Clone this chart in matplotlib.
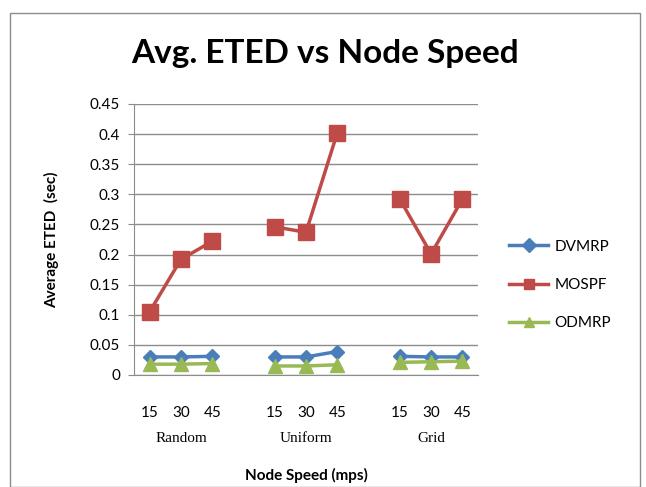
import matplotlib
matplotlib.use("Agg")
import matplotlib.pyplot as plt
from matplotlib.patches import Rectangle
import numpy as np

groups = ["Random", "Uniform", "Grid"]
speeds = ["15", "30", "45"]
dvmrp = [[0.030, 0.030, 0.031], [0.030, 0.030, 0.039], [0.031, 0.030, 0.030]]
mospf = [[0.105, 0.192, 0.222], [0.246, 0.237, 0.402], [0.292, 0.201, 0.292]]
odmrp = [[0.018, 0.018, 0.019], [0.015, 0.015, 0.017], [0.021, 0.022, 0.023]]
series_names = ["DVMRP", "MOSPF", "ODMRP"]
colors = ["#4A7EBB", "#BE4B48", "#98B954"]
markers = ["D", "s", "^"]
msizes = [7, 11, 10]

fig = plt.figure(figsize=(6.46, 4.87), dpi=100)
W, H = 646, 487
ax = fig.add_axes([134 / W, 1 - 375 / H, (478 - 134) / W, (375 - 104) / H])

sans = ["Lato", "DejaVu Sans"]
serif = ["Liberation Serif", "DejaVu Serif"]

# border of chart area
fig.patches.append(Rectangle((10 / W, 0), (640 - 10) / W, 1 - 13 / H, transform=fig.transFigure,
                             fill=False, edgecolor="#8c8c8c", linewidth=1.0))

handles = []
for data, name, c, m, ms in zip([dvmrp, mospf, odmrp], series_names, colors, markers, msizes):
    for gi, vals in enumerate(data):
        xs = np.arange(len(vals)) + gi * (len(speeds) + 1)
        h, = ax.plot(xs, vals, color=c, marker=m, markersize=ms, linewidth=2.5,
                     markeredgecolor=c, label=name if gi == 0 else None)
        if gi == 0:
            handles.append(h)

ax.set_xlim(-0.5, len(groups) * (len(speeds) + 1) - 1 - 0.5)
ax.set_ylim(0, 0.45)
ax.set_yticks(np.arange(0, 0.451, 0.05))
ax.set_yticklabels(["0", "0.05", "0.1", "0.15", "0.2", "0.25", "0.3", "0.35", "0.4", "0.45"],
                   fontfamily=sans, fontsize=11)
ax.yaxis.grid(True, color="#8c8c8c", linewidth=1.0)
ax.set_axisbelow(True)
for s in ["top", "right"]:
    ax.spines[s].set_visible(False)
ax.spines["left"].set_color("#8c8c8c")
ax.spines["bottom"].set_color("#8c8c8c")
ax.tick_params(axis="y", length=4, color="#8c8c8c", pad=6)

xt = []
xl = []
for gi in range(len(groups)):
    for si, s in enumerate(speeds):
        xt.append(gi * (len(speeds) + 1) + si)
        xl.append(s)
ax.set_xticks(xt)
ax.set_xticklabels(xl, fontfamily=sans, fontsize=11)
ax.tick_params(axis="x", length=0, pad=22)

for gi, g in enumerate(groups):
    xc = gi * (len(speeds) + 1) + 1
    ax.annotate(g, xy=(xc, 0), xycoords=("data", "axes fraction"), xytext=(0, -46),
                textcoords="offset points", ha="center", va="center",
                fontfamily=serif, fontsize=11)

fig.text(306 / W, 1 - 475 / H, "Node Speed (mps)", ha="center", va="center",
         fontfamily=sans, fontsize=11, fontweight="bold")
fig.text(52 / W, 1 - 240 / H, "Average ETED  (sec)", ha="center", va="center", rotation=90,
         fontfamily=sans, fontsize=11, fontweight="bold")
fig.text(325 / W, 1 - 53 / H, "Avg. ETED vs Node Speed", ha="center", va="center",
         fontfamily=sans, fontsize=24, fontweight="bold")

leg = fig.legend(handles=handles, loc="center left", bbox_to_anchor=(495 / W, 1 - 285 / H),
                 frameon=False, prop={"family": sans, "size": 11}, labelspacing=1.6,
                 handlelength=2.6, handletextpad=0.4)
for lh in leg.legend_handles:
    lh.set_markersize(7)

fig.savefig("out.png", dpi=100)
